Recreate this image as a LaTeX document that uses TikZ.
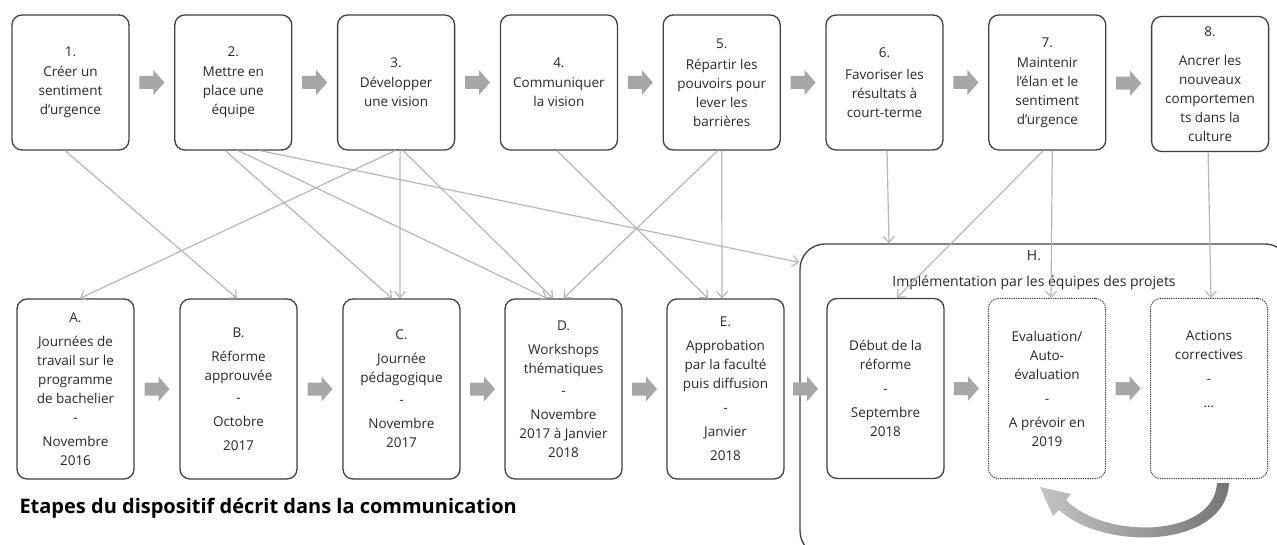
\documentclass[tikz,border=0pt]{standalone}
\usepackage{fontspec}
\setmainfont{Open Sans}
\usetikzlibrary{arrows.meta,calc}
\definecolor{cadre}{RGB}{64,64,64}
\definecolor{lien}{RGB}{182,182,182}
\definecolor{bloc}{RGB}{166,166,166}
\definecolor{texte}{RGB}{40,40,40}
\definecolor{boucleclair}{RGB}{196,196,196}
\definecolor{bouclefonce}{RGB}{118,118,118}

\tikzset{
  etape/.style={draw=cadre, line width=1.3pt, rounded corners=10pt,
    minimum width=117pt, minimum height=135pt, inner sep=0pt,
    align=center, text=texte, font=\fontsize{13.5}{19}\selectfont},
  jalon/.style={etape, minimum height=180pt},
  prevu/.style={jalon, densely dotted, line width=1pt},
  groupe/.style={draw=cadre, line width=1.3pt, rounded corners=25pt,
    minimum width=490pt, minimum height=312pt},
  lien/.style={draw=lien, line width=1.2pt, -{Straight Barb[length=6pt,width=11pt]}},
  bloc/.style={fill=bloc}
}
\newcommand{\fleche}[1]{\fill[bloc, shift={(#1)}] (-12.5,-6.5) -- (1.5,-6.5) -- (1.5,-12.5)
  -- (12.5,0) -- (1.5,12.5) -- (1.5,6.5) -- (-12.5,6.5) -- cycle;}

\begin{document}
\begin{tikzpicture}[x=1pt, y=-1pt]
  \useasboundingbox (0,0) rectangle (1277,545);

  % Les huit etapes
  \node[etape] (s1) at (70.5,82.5) {1.\\[1pt]Créer un\\sentiment\\d’urgence};
  \node[etape] (s2) at (233.3,82.5) {2.\\[1pt]Mettre en\\place une\\équipe};
  \node[etape] (s3) at (396.1,82.5) {3.\\[1pt]Développer\\une vision};
  \node[etape] (s4) at (558.9,82.5) {4.\\[1pt]Communiquer\\la vision};
  \node[etape] (s5) at (721.7,82.5) {5.\\[2pt]Répartir les\\pouvoirs pour\\lever les\\barrières};
  \node[etape] (s6) at (884.5,82.5) {6.\\[3pt]Favoriser les\\résultats à\\court-terme};
  \node[etape] (s7) at (1047.3,82.5) {7.\\[1pt]Maintenir\\l’élan et le\\sentiment\\d’urgence};
  \node[etape] (s8) at (1210.1,84) {8.\\[10pt]Ancrer les\\nouveaux\\comportemen\\ts dans la\\culture};

  % Le dispositif
  \node[jalon] (bA) at (75.5,389) {A.\\[5pt]Journées de\\travail sur le\\programme\\de bachelier\\-\\[5pt]Novembre\\2016};
  \node[jalon] (bB) at (238.5,389) {B.\\[5pt]Réforme\\approuvée\\[3pt]-\\[5pt]Octobre\\[5pt]2017};
  \node[jalon] (bC) at (401.5,389) {C.\\[5pt]Journée\\pédagogique\\[3pt]-\\[5pt]Novembre\\2017};
  \node[jalon] (bD) at (563.5,389) {D.\\[5pt]Workshops\\thématiques\\[3pt]-\\[5pt]Novembre\\2017 à Janvier\\2018};
  \node[jalon] (bE) at (725.5,389) {E.\\[5pt]Approbation\\par la faculté\\puis diffusion\\[5pt]-\\[5pt]Janvier\\[5pt]2018};

  % H. Implementation
  \node[groupe] (H) at (1045,400) {};
  \node[text=texte, align=center, font=\fontsize{14}{19}\selectfont] (hlbl) at (1034,270)
    {H.\\[7pt]Implémentation par les équipes des projets};
  \node[jalon] (bDeb) at (885.5,388.5) {Début de la\\réforme\\[5pt]-\\[5pt]Septembre\\2018};
  \node[prevu] (bEval) at (1047,388.5) {Evaluation/\\Auto-\\évaluation\\[5pt]-\\[5pt]A prévoir en\\2019};
  \node[prevu] (bAct) at (1209,388.5) {Actions\\correctives\\[5pt]-\\[5pt]…\\[19pt]};

  % Fleches grises
  \coordinate (f1) at ($(s1.east)!.5!(s2.west)$);
  \coordinate (f2) at ($(s2.east)!.5!(s3.west)$);
  \coordinate (f3) at ($(s3.east)!.5!(s4.west)$);
  \coordinate (f4) at ($(s4.east)!.5!(s5.west)$);
  \coordinate (f5) at ($(s5.east)!.5!(s6.west)$);
  \coordinate (f6) at ($(s6.east)!.5!(s7.west)$);
  \coordinate (f7) at ($(s7.east)!.5!(s8.west)$);
  \coordinate (g1) at ($(bA.east)!.5!(bB.west)$);
  \coordinate (g2) at ($(bB.east)!.5!(bC.west)$);
  \coordinate (g3) at ($(bC.east)!.5!(bD.west)$);
  \coordinate (g4) at ($(bD.east)!.5!(bE.west)$);
  \coordinate (g5) at ($(bE.east)!.5!(bDeb.west)$);
  \coordinate (g6) at ($(bDeb.east)!.5!(bEval.west)$);
  \coordinate (g7) at ($(bEval.east)!.5!(bAct.west)$);
  \foreach \f in {f1,f2,f3,f4,f5,f6,f7,g1,g2,g3,g4,g5,g6,g7}
    {\fleche{\f}}

  % Liens entre etapes et dispositif
  \draw[lien] ([xshift=-5.5pt]s1.south) -- ([xshift=-1.5pt]bB.north);
  \draw[lien] ([xshift=-8pt]s2.south) -- ([xshift=-9.5pt]bC.north);
  \draw[lien] ([xshift=5pt]s2.south) -- ([xshift=-16.5pt]bD.north);
  \draw[lien] ([xshift=27pt]s2.south) -- ([yshift=-19pt]H.north west);
  \draw[lien] ([xshift=-1pt]s3.south) -- ([xshift=4.5pt]bA.north);
  \draw[lien] ([xshift=4pt]s3.south) -- ([xshift=-1.5pt]bC.north);
  \draw[lien] ([xshift=7pt]s3.south) -- ([xshift=-10.5pt]bD.north);
  \draw[lien] ([xshift=-2pt]s4.south) -- ([xshift=-17.5pt]bE.north);
  \draw[lien] ([xshift=-4pt]s5.south) -- (bD.north);
  \draw[lien] (s5.south) -- ([xshift=-3.5pt]bE.north);
  \draw[lien] ([xshift=2.5pt]s6.south) -- ([xshift=-156pt]H.north);
  \draw[lien] ([xshift=-4pt]s7.south) -- ([xshift=11.5pt]bDeb.north);
  \draw[lien] ([xshift=5pt]s7.south) -- ([xshift=4pt]bEval.north);
  \draw[lien] ([xshift=-2pt]s8.south) -- ([xshift=2pt]bAct.north);

  % Boucle
  \shade[left color=boucleclair, right color=bouclefonce]
    (1229,483) .. controls (1226,548) and (1105,552) .. (1059,510)
    -- (1053,516) -- (1040,487) -- (1071,494) -- (1066,500)
    .. controls (1105,540) and (1214,538) .. (1217,483) -- cycle;

  \node[anchor=west, font=\bfseries\fontsize{20}{24}\selectfont] (titre) at (16,508)
    {Etapes du dispositif décrit dans la communication};
\end{tikzpicture}
\end{document}
